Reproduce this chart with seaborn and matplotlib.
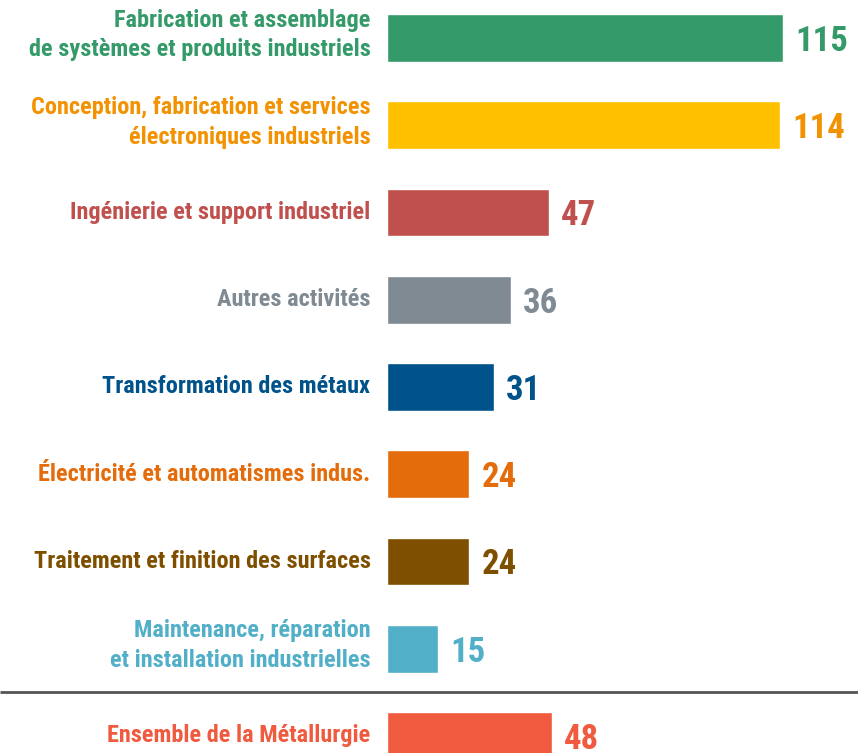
import matplotlib
matplotlib.use("Agg")
import matplotlib.pyplot as plt
import seaborn as sns
import pandas as pd

categories = [
    "Fabrication et assemblage\nde systèmes et produits industriels",
    "Conception, fabrication et services\nélectroniques industriels",
    "Ingénierie et support industriel",
    "Autres activités",
    "Transformation des métaux",
    "Électricité et automatismes indus.",
    "Traitement et finition des surfaces",
    "Maintenance, réparation\net installation industrielles",
    "Ensemble de la Métallurgie",
]
values = [115, 114, 47, 36, 31, 24, 24, 15, 48]
bar_colors = ["#359A69", "#FFC000", "#C0504D", "#7F8A92", "#00538A",
              "#E46C0A", "#7F4F00", "#52AFC8", "#F05A3E"]
text_colors = ["#359A69", "#F39200", "#C0504D", "#7F8A92", "#00538A",
               "#E46C0A", "#7F4F00", "#52AFC8", "#F05A3E"]

sns.set_theme(style="white")
plt.rcParams["font.family"] = ["Roboto Condensed", "DejaVu Sans"]

df = pd.DataFrame({"cat": categories, "val": values})

W, H = 858, 753
fig = plt.figure(figsize=(W / 100, H / 100), dpi=100)
x0 = 386.5
ax = fig.add_axes([x0 / W, 0, 1 - x0 / W, 1])

sns.barplot(data=df, x="val", y="cat", hue="cat", order=categories,
            palette=dict(zip(categories, bar_colors)), legend=False,
            width=0.55, orient="h", saturation=1, ax=ax)

px_per_unit = 3.452
ax.set_xlim(0, (W - x0) / px_per_unit)
step = 87.25
ax.set_ylim((H - 38) / step, -38 / step)
ax.axis("off")

for i, (v, tc) in enumerate(zip(values, text_colors)):
    ax.text(v + 12 / px_per_unit, i + 0.04, str(v), color=tc, fontsize=25,
            fontweight="bold", ha="left", va="center")
    dy = -0.035 if "\n" in categories[i] else 0.0
    ax.text(-16 / px_per_unit, i + dy, categories[i], color=tc, fontsize=17.5,
            fontweight="bold", ha="right", va="center", linespacing=1.38,
            clip_on=False)

# separator line between detail and total
ax.plot([-x0 / px_per_unit, (W - x0) / px_per_unit], [7.5, 7.5],
        color="#555555", lw=2, clip_on=False, solid_capstyle="butt")

fig.savefig("out.png", dpi=100)
